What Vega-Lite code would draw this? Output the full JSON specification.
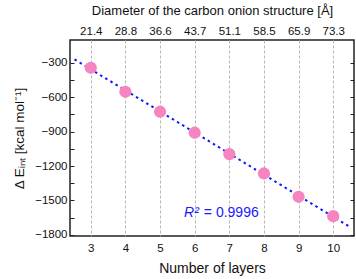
{
  "$schema": "https://vega.github.io/schema/vega-lite/v6.json",
  "width": 284,
  "height": 196,
  "autosize": {"type": "none"},
  "padding": {"left": 70, "top": 40, "right": 2, "bottom": 43},
  "config": {
    "font": "Liberation Sans",
    "view": {"stroke": "#222", "strokeWidth": 1.5},
    "axis": {"labelFont": "Liberation Sans", "titleFont": "Liberation Sans", "labelFontSize": 11.5, "titleFontSize": 13, "labelColor": "#111", "titleColor": "#111", "titleFontWeight": "normal", "domain": false, "tickColor": "#222", "tickWidth": 1}
  },
  "datasets": {
    "points": [
      {"layers": 3, "diameter": 21.4, "dE": -344},
      {"layers": 4, "diameter": 28.8, "dE": -553},
      {"layers": 5, "diameter": 36.6, "dE": -727},
      {"layers": 6, "diameter": 43.7, "dE": -910},
      {"layers": 7, "diameter": 51.1, "dE": -1096},
      {"layers": 8, "diameter": 58.5, "dE": -1265},
      {"layers": 9, "diameter": 65.9, "dE": -1468},
      {"layers": 10, "diameter": 73.3, "dE": -1637}
    ],
    "fit": [
      {"layers": 2.53, "dE": -271},
      {"layers": 10.52, "dE": -1738}
    ],
    "annot": [
      {"layers": 6.12, "dE": -1610, "a": "R²", "b": "= 0.9996"}
    ]
  },
  "layer": [
    {
      "data": {"name": "fit"},
      "mark": {"type": "line", "color": "#0a14ff", "strokeWidth": 2, "strokeDash": [2.5, 3.5]},
      "encoding": {
        "x": {"field": "layers", "type": "quantitative", "scale": {"domain": [2.4, 10.6], "nice": false, "zero": false},
          "axis": {"orient": "top", "values": [3,4,5,6,7,8,9,10], "ticks": false, "grid": false, "labelPadding": 4, "titlePadding": 8,
            "labelExpr": "['21.4','28.8','36.6','43.7','51.1','58.5','65.9','73.3'][datum.value-3]",
            "title": "Diameter of the carbon onion structure [Å]"}},
        "y": {"field": "dE", "type": "quantitative", "scale": {"domain": [-1810, -102], "nice": false, "zero": false},
          "axis": {"orient": "right", "values": [-1800,-1650,-1500,-1350,-1200,-1050,-900,-750,-600,-450,-300], "labels": false, "tickSize": -4, "grid": false, "title": null}}
      }
    },
    {
      "data": {"name": "points"},
      "mark": {"type": "circle", "color": "#f584c0", "opacity": 1, "size": 150},
      "encoding": {
        "x": {"field": "layers", "type": "quantitative",
          "axis": {"orient": "bottom", "values": [3,4,5,6,7,8,9,10], "ticks": false, "grid": true, "gridColor": "#b8b8b8", "gridDash": [3, 2], "gridWidth": 1, "labelPadding": 6, "titlePadding": 8, "titleFontSize": 14, "title": "Number of layers"}},
        "y": {"field": "dE", "type": "quantitative",
          "axis": {"orient": "left", "values": [-1800,-1650,-1500,-1350,-1200,-1050,-900,-750,-600,-450,-300], "format": "d", "labelExpr": "datum.value % 300 === 0 ? datum.label : ''", "tickSize": -4, "labelPadding": 7, "grid": false, "titlePadding": 8, "titleFontSize": 13.5, "title": "Δ Eᵢₙₜ [kcal mol⁻¹]"}}
      }
    },
    {
      "data": {"name": "annot"},
      "mark": {"type": "text", "color": "#1a1aff", "fontSize": 14, "fontStyle": "italic", "align": "right", "baseline": "middle"},
      "encoding": {
        "x": {"field": "layers", "type": "quantitative", "axis": null},
        "y": {"field": "dE", "type": "quantitative", "axis": null},
        "text": {"field": "a"}
      }
    },
    {
      "data": {"name": "annot"},
      "mark": {"type": "text", "color": "#1a1aff", "fontSize": 14, "align": "left", "baseline": "middle", "dx": 5},
      "encoding": {
        "x": {"field": "layers", "type": "quantitative", "axis": null},
        "y": {"field": "dE", "type": "quantitative", "axis": null},
        "text": {"field": "b"}
      }
    }
  ],
  "resolve": {"axis": {"x": "independent", "y": "independent"}}
}
